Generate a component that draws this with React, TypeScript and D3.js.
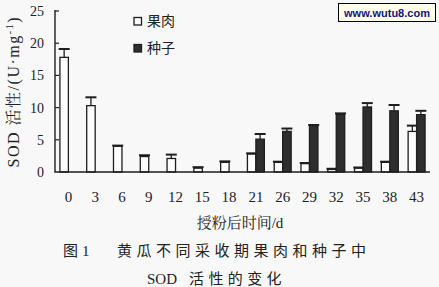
import React from "react";
import * as d3 from "d3";

const categories = ["0", "3", "6", "9", "12", "15", "18", "21", "26", "29", "32", "35", "38", "43"];
const fleshValues = [17.8, 10.3, 4.0, 2.4, 2.1, 0.6, 1.5, 2.8, 1.5, 1.3, 0.4, 0.6, 1.5, 6.3];
const fleshErrors = [1.3, 1.3, 0.1, 0.2, 0.6, 0.15, 0.15, 0.1, 0.1, 0.1, 0.1, 0.1, 0.1, 0.9];
const seedValues = [0, 0, 0, 0, 0, 0, 0, 5.1, 6.3, 7.2, 9.0, 10.1, 9.5, 8.9];
const seedErrors = [0, 0, 0, 0, 0, 0, 0, 0.8, 0.45, 0.1, 0.1, 0.6, 0.9, 0.6];
const yTicks = [0, 5, 10, 15, 20, 25];
const seriesKeys = ["flesh", "seed"];
const legendLabels = ["果肉", "种子"];

const W = 439;
const H = 287;
const serif = "'Liberation Serif', 'DejaVu Serif', 'Noto Serif CJK SC', 'Noto Sans CJK SC', serif";
const cjk = "'Noto Sans CJK SC', 'Noto Serif CJK SC', sans-serif";

export default function App() {
  const x = d3.scaleBand<string>().domain(categories).range([55, 430]).padding(0);
  const x1 = d3.scaleBand<string>().domain(seriesKeys).range([0, x.step()]).paddingInner(0).paddingOuter(0.58);
  const y = d3.scaleLinear().domain([0, 25]).range([172, 11]);
  const bw = x1.bandwidth();
  const ink = "#1e1e1e";

  const series = [
    { key: "flesh", values: fleshValues, errors: fleshErrors, fill: "#fcfcfc" },
    { key: "seed", values: seedValues, errors: seedErrors, fill: "#2e2e2e" },
  ];

  return (
    <svg width={W} height={H} style={{ position: "absolute", left: 0, top: 0, background: "#f8f8f8" }}>
      <rect x={0} y={0} width={W} height={H} fill="#f8f8f8" />
      {/* bars */}
      {series.map((s) =>
        categories.map((c, i) => {
          const v = s.values[i];
          if (v <= 0) return null;
          const bx = (x(c) as number) + (x1(s.key) as number);
          const top = y(v);
          const etop = y(v + s.errors[i]);
          const cx = bx + bw / 2;
          return (
            <g key={s.key + c}>
              <rect x={bx} y={top} width={bw} height={y(0) - top} fill={s.fill} stroke={ink} strokeWidth={1.3} />
              <line x1={cx} x2={cx} y1={top} y2={etop} stroke={ink} strokeWidth={1.3} />
              <line x1={cx - 5.5} x2={cx + 5.5} y1={etop} y2={etop} stroke={ink} strokeWidth={2} />
            </g>
          );
        })
      )}
      {/* axes */}
      <line x1={55} x2={55} y1={y(25) - 1} y2={y(0)} stroke={ink} strokeWidth={1.4} />
      <line x1={54.3} x2={430} y1={y(0)} y2={y(0)} stroke={ink} strokeWidth={1.6} />
      {yTicks.map((t) => (
        <g key={t}>
          {t > 0 && <line x1={55} x2={59} y1={y(t)} y2={y(t)} stroke={ink} strokeWidth={1.2} />}
          <text x={44} y={y(t) + 5} textAnchor="end" fontFamily={serif} fontSize={14} fill="#222">
            {t}
          </text>
        </g>
      ))}
      {categories.map((c) => (
        <text key={c} x={(x(c) as number) + x.step() / 2} y={202} textAnchor="middle" fontFamily={serif} fontSize={15} fill="#222">
          {c}
        </text>
      ))}
      {/* y title */}
      <text
        transform={`translate(19,92.5) rotate(-90)`}
        textAnchor="middle"
        fontFamily={serif}
        fontSize={16}
        fill="#222"
        textLength={150}
        lengthAdjust="spacing"
      >
        SOD 活性/(U·mg<tspan dy={-6} fontSize={10}>-1</tspan><tspan dy={6}>)</tspan>
      </text>
      {/* x title */}
      <text x={240} y={228} textAnchor="middle" fontFamily={serif} fontSize={15} fill="#222">
        授粉后时间/d
      </text>
      {/* legend */}
      {legendLabels.map((l, i) => (
        <g key={l}>
          <rect x={134} y={17.5 + i * 27} width={7.5} height={7.5} fill={series[i].fill} stroke={ink} strokeWidth={1.3} />
          <text x={147} y={26 + i * 27} fontFamily={cjk} fontSize={14} fill="#222">
            {l}
          </text>
        </g>
      ))}
      {/* caption */}
      <text x={63} y={256} fontFamily={cjk} fontSize={15} fill="#222">图</text>
      <text x={82} y={256} fontFamily={serif} fontSize={15} fill="#222">1</text>
      <text x={117} y={256} fontFamily={cjk} fontSize={15} fill="#222" letterSpacing={4.5}>
        黄瓜不同采收期果肉和种子中
      </text>
      <text x={147} y={284} fontFamily={serif} fontSize={15} fill="#222">SOD</text>
      <text x={189} y={284} fontFamily={cjk} fontSize={15} fill="#222" letterSpacing={4.4}>
        活性的变化
      </text>
      {/* watermark */}
      <rect x={338.5} y={3.5} width={97} height={18} fill="#ffffea" stroke="#000" strokeWidth={1} />
      <text x={387} y={17} textAnchor="middle" fontFamily="'Liberation Sans', Arial, sans-serif" fontWeight="bold" fontSize={11.5} fill="#141480" textLength={86} lengthAdjust="spacingAndGlyphs">
        www.wutu8.com
      </text>
    </svg>
  );
}
